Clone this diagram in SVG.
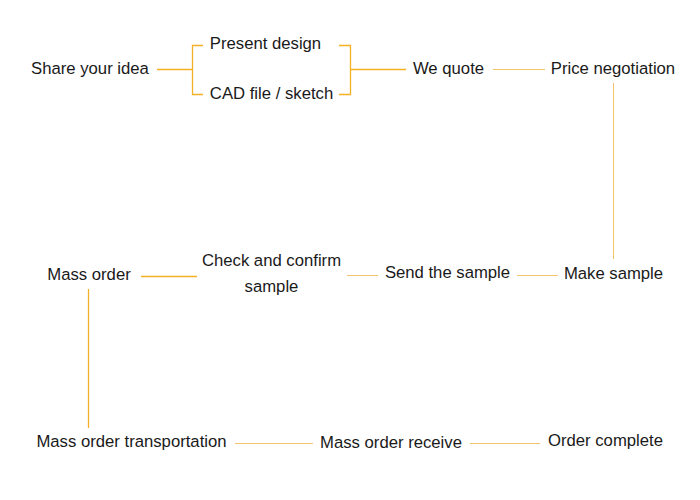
<svg xmlns="http://www.w3.org/2000/svg" width="700" height="500" viewBox="0 0 700 500">
<style>
text{font-family:"Liberation Sans",Arial,sans-serif;font-size:16.7px;fill:#1a1a1a;text-anchor:middle;dominant-baseline:central}
.c{fill:none;stroke:#F5B124;stroke-width:1.3}
.p{fill:none;stroke:#F2C46E;stroke-width:1}
</style>
<rect width="700" height="500" fill="#fff"/>
<g id="connectors">
<path class="c" d="M157 69.5H192.5M203 45.5H192.5V94.5H203M339 45.5H350.5V94.5H339M350.5 69.5H406"/>
<path class="p" d="M493 69.5H545"/>
<path class="p" d="M613.5 83V259"/>
<path class="p" d="M517 275.5H558"/>
<path class="p" d="M347 275.5H378"/>
<path class="c" d="M141 276.5H197"/>
<path class="c" d="M88.5 289V428"/>
<path class="p" d="M235 443.5H313"/>
<path class="p" d="M470 443.5H540"/>
</g>
<g id="n1"><text x="90" y="68">Share your idea</text></g>
<g id="n2"><text x="265.5" y="43.5">Present design</text></g>
<g id="n3"><text x="271.5" y="93.5">CAD file / sketch</text></g>
<g id="n4"><text x="448.5" y="68">We quote</text></g>
<g id="n5"><text x="613" y="68">Price negotiation</text></g>
<g id="n6"><text x="613.5" y="273.5">Make sample</text></g>
<g id="n7"><text x="447.5" y="272.5">Send the sample</text></g>
<g id="n8"><text x="271.5" y="260.5">Check and confirm</text><text x="271.5" y="286">sample</text></g>
<g id="n9"><text x="89" y="274.5">Mass order</text></g>
<g id="n10"><text x="131.5" y="441.5">Mass order transportation</text></g>
<g id="n11"><text x="391" y="442.5">Mass order receive</text></g>
<g id="n12"><text x="605.5" y="440.5">Order complete</text></g>
</svg>
